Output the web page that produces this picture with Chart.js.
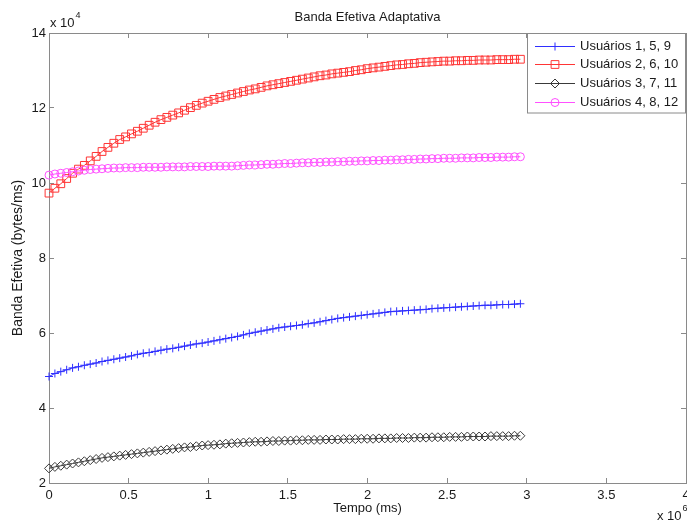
<!DOCTYPE html>
<html>
<head>
<meta charset="utf-8">
<script src="https://cdn.jsdelivr.net/npm/chart.js@4/dist/chart.umd.min.js"></script>
<style>
  html, body { margin: 0; padding: 0; background: #fff; }
  #wrap { width: 687px; height: 520px; }
</style>
</head>
<body>
<div id="wrap"><canvas id="c" width="687" height="520"></canvas></div>
<script>
// ---- data (time in ms, bandwidth in bytes/ms) ----
const times = [0,37000,74000,111000,148000,185000,222000,259000,296000,333000,370000,407000,444000,481000,518000,555000,592000,629000,666000,703000,740000,777000,814000,851000,888000,925000,962000,999000,1036000,1073000,1110000,1147000,1184000,1221000,1258000,1295000,1332000,1369000,1406000,1443000,1480000,1517000,1554000,1591000,1628000,1665000,1702000,1739000,1776000,1813000,1850000,1887000,1924000,1961000,1998000,2035000,2072000,2109000,2146000,2183000,2220000,2257000,2294000,2331000,2368000,2405000,2442000,2479000,2516000,2553000,2590000,2627000,2664000,2701000,2738000,2775000,2812000,2849000,2886000,2923000,2960000];

const users1_5_9 = [48400,49200,49700,50200,50700,51000,51400,51700,52000,52400,52700,53000,53300,53600,53900,54300,54600,54800,55100,55400,55700,55900,56200,56500,56800,57100,57300,57600,57900,58200,58500,58800,59100,59500,59900,60200,60500,60800,61100,61400,61600,61800,62000,62200,62500,62700,63000,63300,63600,63900,64100,64300,64500,64700,64900,65100,65300,65500,65700,65800,65900,66000,66100,66200,66300,66500,66600,66700,66800,66900,67000,67100,67200,67300,67400,67400,67500,67600,67600,67700,67800];

const users2_6_10 = [97300,98600,99800,101200,102600,103700,104700,105900,107100,108400,109500,110600,111600,112300,113100,113800,114600,115400,116200,116900,117500,118100,118700,119400,120100,120700,121300,121800,122300,122800,123200,123600,124000,124400,124800,125100,125500,125900,126200,126500,126800,127100,127400,127700,128000,128300,128600,128800,129100,129300,129500,129700,130000,130200,130500,130700,130900,131100,131300,131500,131600,131800,131900,132100,132200,132300,132400,132500,132500,132600,132600,132700,132700,132800,132800,132800,132900,132900,132900,133000,133000];

const users3_7_11 = [23900,24300,24600,24900,25200,25500,25800,26100,26400,26700,26900,27100,27300,27500,27700,27900,28100,28300,28500,28700,28900,29100,29300,29500,29600,29800,30000,30100,30200,30300,30500,30600,30700,30800,30900,31000,31000,31100,31200,31200,31300,31300,31400,31400,31500,31500,31500,31600,31600,31600,31700,31700,31700,31800,31800,31800,31900,31900,31900,32000,32000,32000,32100,32100,32100,32200,32200,32200,32300,32300,32300,32400,32400,32400,32400,32500,32500,32500,32500,32600,32600];

const users4_8_12 = [102100,102400,102600,102800,103000,103200,103400,103600,103700,103800,103900,104000,104000,104100,104100,104100,104200,104200,104200,104200,104300,104300,104300,104300,104400,104400,104400,104400,104500,104500,104500,104500,104600,104700,104800,104800,104900,105000,105000,105100,105200,105200,105300,105400,105400,105500,105500,105600,105600,105700,105700,105800,105800,105900,105900,106000,106000,106100,106100,106200,106200,106300,106300,106400,106400,106500,106500,106600,106600,106600,106700,106700,106700,106800,106800,106800,106900,106900,106900,107000,107000];

const seriesLabels = ['Usuários 1, 5, 9', 'Usuários 2, 6, 10', 'Usuários 3, 7, 11', 'Usuários 4, 8, 12'];
const xTickValues = [0, 500000, 1000000, 1500000, 2000000, 2500000, 3000000, 3500000, 4000000];
const yTickValues = [20000, 40000, 60000, 80000, 100000, 120000, 140000];
const chartTitle = 'Banda Efetiva Adaptativa';
const xTitle = 'Tempo (ms)';
const yTitle = 'Banda Efetiva (bytes/ms)';

// ---- styles ----
const FONT = "'Liberation Sans', Arial, Helvetica, sans-serif";
const AXIS = '#8a8a8a';
const TXT = '#1a1a1a';

function pts(arr) { return times.map((t, i) => ({ x: t, y: arr[i] })); }

const styles = [
  { color: '#2f2fff', pointStyle: 'cross',   radius: 4.0, order: 4 },
  { color: '#ff3535', pointStyle: 'rect',    radius: 5.5, order: 3 },
  { color: '#3a3a3a', pointStyle: 'rectRot', radius: 4.5, order: 2 },
  { color: '#ff50ff', pointStyle: 'circle',  radius: 4.0, order: 1 }
];
const seriesData = [users1_5_9, users2_6_10, users3_7_11, users4_8_12];

const datasets = seriesData.map((arr, k) => ({
  label: seriesLabels[k],
  data: pts(arr),
  borderColor: styles[k].color,
  backgroundColor: 'rgba(0,0,0,0)',
  pointBorderColor: styles[k].color,
  pointBackgroundColor: 'rgba(0,0,0,0)',
  pointStyle: styles[k].pointStyle,
  pointRadius: styles[k].radius,
  pointHoverRadius: styles[k].radius,
  pointBorderWidth: 1,
  borderWidth: 1,
  tension: 0,
  fill: false,
  clip: 8,
  order: styles[k].order
}));

const gridInward = {
  display: true, drawOnChartArea: false, drawTicks: true,
  tickLength: -5, color: AXIS, lineWidth: 1
};
const borderOpt = { display: true, color: AXIS, width: 1 };
const zeroPad = () => ({ left: 0, top: 0, right: 0, bottom: 0 });

function fixFit(size, horizontal) {
  return function (s) {
    if (horizontal) s.height = size; else s.width = size;
    s.paddingLeft = 0; s.paddingRight = 0; s.paddingTop = 0; s.paddingBottom = 0;
    s.getPadding = zeroPad;
  };
}

const overlayPlugin = {
  id: 'overlay',
  afterDraw(chart) {
    const ctx = chart.ctx;
    const a = chart.chartArea;
    ctx.save();
    // title
    ctx.fillStyle = TXT;
    ctx.font = '13px ' + FONT;
    ctx.textAlign = 'center';
    ctx.textBaseline = 'middle';
    ctx.fillText(chartTitle, (a.left + a.right) / 2, 17);
    // exponent labels
    ctx.textAlign = 'left';
    ctx.font = '13px ' + FONT;
    ctx.fillText('x 10', 50, 23);
    let w = ctx.measureText('x 10').width;
    ctx.font = '9px ' + FONT;
    ctx.fillText('4', 50 + w + 1, 16);
    ctx.font = '13px ' + FONT;
    ctx.fillText('x 10', 657, 516);
    w = ctx.measureText('x 10').width;
    ctx.font = '9px ' + FONT;
    ctx.fillText('6', 657 + w + 1, 509);

    // legend
    const lx = 527.5, ly = 33.5, lw = 158, lh = 79.5;
    ctx.fillStyle = '#ffffff';
    ctx.fillRect(lx, ly, lw, lh);
    ctx.strokeStyle = '#8a8a8a';
    ctx.lineWidth = 1;
    ctx.strokeRect(lx, ly, lw, lh);
    const rows = [46.5, 64.5, 83.5, 102.5];
    chart.data.datasets.forEach((ds, k) => {
      const y = rows[k];
      ctx.strokeStyle = ds.borderColor;
      ctx.lineWidth = 1;
      ctx.beginPath();
      ctx.moveTo(535, y);
      ctx.lineTo(575, y);
      ctx.stroke();
      ctx.strokeStyle = ds.pointBorderColor;
      ctx.fillStyle = 'rgba(0,0,0,0)';
      if (Chart.helpers && Chart.helpers.drawPoint) {
        Chart.helpers.drawPoint(ctx, {
          pointStyle: ds.pointStyle, radius: ds.pointRadius,
          borderWidth: 1, rotation: 0
        }, 555, y);
      }
      ctx.fillStyle = TXT;
      ctx.font = '13px ' + FONT;
      ctx.textAlign = 'left';
      ctx.textBaseline = 'middle';
      ctx.fillText(ds.label, 580, y);
    });
    ctx.restore();
  }
};

new Chart(document.getElementById('c'), {
  type: 'line',
  data: { datasets },
  plugins: [overlayPlugin],
  options: {
    responsive: false,
    animation: false,
    events: [],
    layout: { autoPadding: false, padding: { top: 33, right: 1, left: 0, bottom: 0 } },
    plugins: { legend: { display: false }, title: { display: false }, tooltip: { enabled: false } },
    scales: {
      x: {
        type: 'linear', position: 'bottom', min: 0, max: 4000000,
        afterBuildTicks(s) { s.ticks = xTickValues.map(v => ({ value: v })); },
        ticks: {
          color: TXT, font: { family: FONT, size: 13 }, padding: 10, maxRotation: 0,
          callback: v => String(v / 1e6)
        },
        grid: gridInward, border: borderOpt,
        title: { display: true, text: xTitle, color: TXT, font: { family: FONT, size: 13 }, padding: { top: 0, bottom: 4 } },
        afterFit: fixFit(37, true)
      },
      x2: {
        type: 'linear', position: 'top', min: 0, max: 4000000,
        afterBuildTicks(s) { s.ticks = xTickValues.map(v => ({ value: v })); },
        ticks: { display: false },
        grid: gridInward, border: borderOpt,
        afterFit: fixFit(0, true)
      },
      y: {
        type: 'linear', position: 'left', min: 20000, max: 140000,
        afterBuildTicks(s) { s.ticks = yTickValues.map(v => ({ value: v })); },
        ticks: {
          color: TXT, font: { family: FONT, size: 13 }, padding: 8,
          callback: v => String(v / 1e4)
        },
        grid: gridInward, border: borderOpt,
        title: { display: true, text: yTitle, color: TXT, font: { family: FONT, size: 14 }, padding: { top: 10, bottom: 0 } },
        afterFit: fixFit(49, false)
      },
      y2: {
        type: 'linear', position: 'right', min: 20000, max: 140000,
        afterBuildTicks(s) { s.ticks = yTickValues.map(v => ({ value: v })); },
        ticks: { display: false },
        grid: gridInward, border: borderOpt,
        afterFit: fixFit(0, false)
      }
    }
  }
});
</script>
</body>
</html>
